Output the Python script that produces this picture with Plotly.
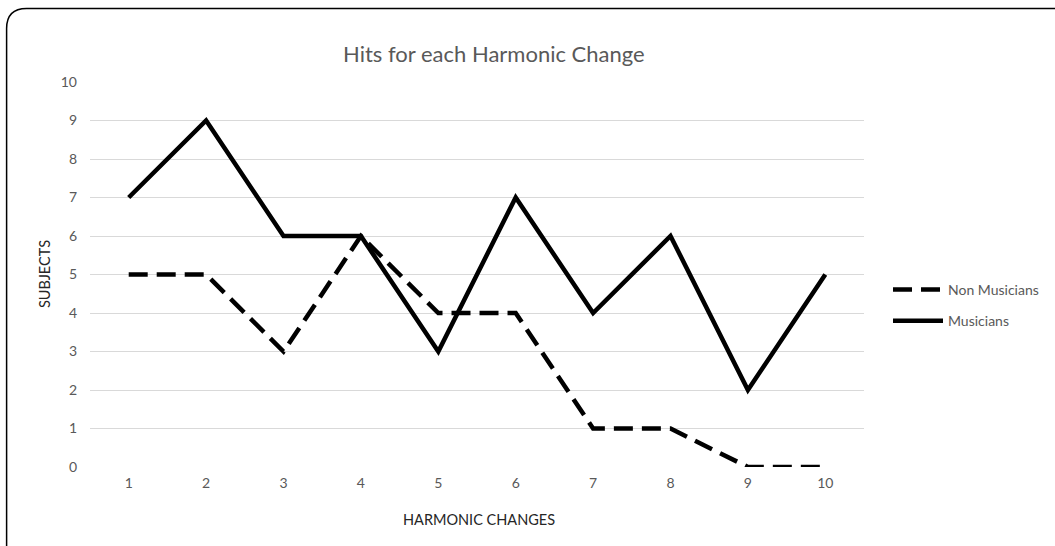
import plotly.graph_objects as go

categories = ["1", "2", "3", "4", "5", "6", "7", "8", "9", "10"]
non_musicians = [5, 5, 3, 6, 4, 4, 1, 1, 0, 0]
musicians = [7, 9, 6, 6, 3, 7, 4, 6, 2, 5]
y_ticks = list(range(0, 11))

W, H = 1055, 546
# plot area in page pixels: x 90..865, y 82..467
L, T = 90, 82
R = W - 865
B = H - 467
pw, ph = W - L - R, H - T - B

def px(x):
    return (x - L) / pw

def py(y):
    return (H - B - y) / ph

fig = go.Figure()
fig.add_trace(go.Scatter(
    x=categories, y=non_musicians, mode="lines", name="Non Musicians",
    legendgroup="nm",
    line=dict(color="black", width=4.5, dash="19px,9px")))
fig.add_trace(go.Scatter(
    x=categories, y=musicians, mode="lines", name="Musicians",
    legendgroup="m",
    line=dict(color="black", width=4.5)))

font = "Lato, 'Open Sans', sans-serif"
grey = "#595959"
dark = "#262626"

# rounded border (open at right and bottom, as in reference)
r = 20
path = (f"M {px(6.5)} {py(560)} L {px(6.5)} {py(8.5 + r)} "
        f"Q {px(6.5)} {py(8.5)} {px(6.5 + r)} {py(8.5)} L {px(1070)} {py(8.5)}")
fig.add_shape(type="path", xref="paper", yref="paper", path=path,
              line=dict(color="black", width=1.5))

fig.add_annotation(text="Hits for each Harmonic Change", xref="paper", yref="paper",
                   x=px(495), y=py(54), xanchor="center", yanchor="middle",
                   showarrow=False, font=dict(family=font, size=22, color=grey))
fig.add_annotation(text="SUBJECTS", xref="paper", yref="paper",
                   x=px(44), y=py(274), xanchor="center", yanchor="middle",
                   showarrow=False, textangle=-90,
                   font=dict(family=font, size=14.5, color=dark))
fig.add_annotation(text="HARMONIC CHANGES", xref="paper", yref="paper",
                   x=px(480), y=py(519), xanchor="center", yanchor="middle",
                   showarrow=False, font=dict(family=font, size=14.5, color=dark))

fig.update_layout(
    width=W, height=H,
    margin=dict(l=L, r=R, t=T, b=B),
    paper_bgcolor="white", plot_bgcolor="white",
    showlegend=True,
    legend=dict(x=px(888), y=py(274), xanchor="left", yanchor="top",
                font=dict(family=font, size=14, color=grey),
                bgcolor="rgba(0,0,0,0)", itemwidth=50, tracegroupgap=10),
    xaxis=dict(type="category", range=[-0.5, 9.5], showgrid=False, zeroline=False,
               showline=False, ticks="", ticklabelstandoff=6,
               tickfont=dict(family=font, size=14, color=grey)),
    yaxis=dict(range=[0, 10], tickvals=y_ticks, showgrid=True, gridcolor="#d9d9d9",
               gridwidth=1, zeroline=False, showline=False, ticks="",
               ticklabelstandoff=12,
               tickfont=dict(family=font, size=14, color=grey)),
)

fig.write_html("out.html", config={"displayModeBar": False},
               post_script="document.body.style.margin='0';")
